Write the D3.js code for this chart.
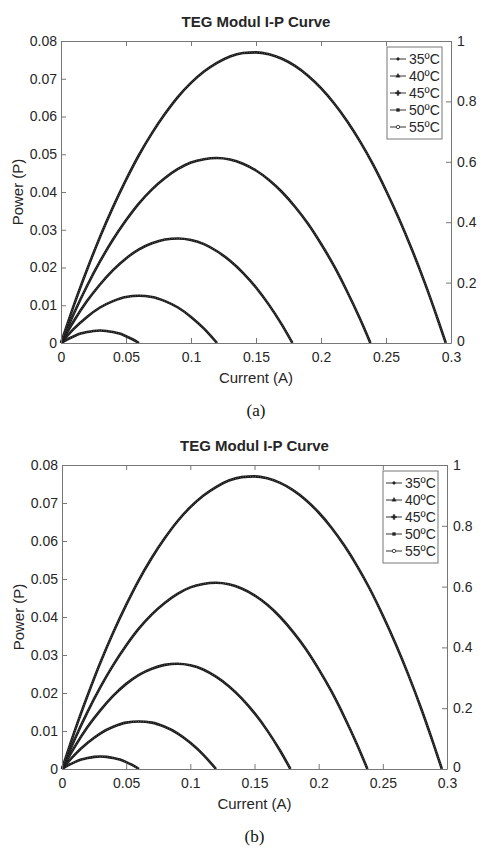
<!DOCTYPE html>
<html><head><meta charset="utf-8">
<script src="https://cdn.jsdelivr.net/npm/d3@7"></script>
<style>
html,body{margin:0;padding:0;background:#fff;}
text{font-family:"Liberation Sans",Arial,Helvetica,sans-serif;}
</style></head>
<body><svg id="chart" width="481" height="850"></svg>
<script>
// ---- data ----
const temps = ["35ºC", "40ºC", "45ºC", "50ºC", "55ºC"];
const current35 = [0,0.005,0.01,0.015,0.02,0.025,0.03,0.035,0.04,0.045,0.05,0.055,0.06];
const power35   = [0,0.0010,0.0018,0.0025,0.0029,0.0032,0.0033,0.0032,0.0029,0.0025,0.0018,0.0010,0];
const current40 = [0,0.01,0.02,0.03,0.04,0.05,0.06,0.07,0.08,0.09,0.10,0.11,0.12];
const power40   = [0,0.0038,0.0069,0.0094,0.0111,0.0122,0.0125,0.0122,0.0111,0.0094,0.0069,0.0038,0];
const current45 = [0,0.01,0.02,0.03,0.04,0.05,0.06,0.07,0.08,0.09,0.10,0.11,0.12,0.13,0.14,0.15,0.16,0.17,0.178];
const power45   = [0,0.0059,0.0111,0.0155,0.0193,0.0224,0.0248,0.0264,0.0274,0.0277,0.0273,0.0262,0.0243,0.0218,0.0186,0.0147,0.0101,0.0048,0];
const current50 = [0,0.01,0.02,0.03,0.04,0.05,0.06,0.07,0.08,0.09,0.10,0.11,0.12,0.13,0.14,0.15,0.16,0.17,0.18,0.19,0.20,0.21,0.22,0.23,0.238];
const power50   = [0,0.0079,0.0151,0.0216,0.0274,0.0325,0.0370,0.0407,0.0437,0.0461,0.0478,0.0487,0.0490,0.0486,0.0475,0.0457,0.0432,0.0400,0.0361,0.0316,0.0263,0.0204,0.0137,0.0064,0];
const current55 = [0,0.01,0.02,0.03,0.04,0.05,0.06,0.07,0.08,0.09,0.10,0.11,0.12,0.13,0.14,0.15,0.16,0.17,0.18,0.19,0.20,0.21,0.22,0.23,0.24,0.25,0.26,0.27,0.28,0.29,0.296];
const power55   = [0,0.0101,0.0194,0.0281,0.0360,0.0432,0.0498,0.0556,0.0607,0.0652,0.0689,0.0719,0.0742,0.0759,0.0768,0.0770,0.0765,0.0753,0.0734,0.0708,0.0675,0.0635,0.0588,0.0534,0.0473,0.0404,0.0329,0.0247,0.0158,0.0061,0];
const xTicks = [0,0.05,0.1,0.15,0.2,0.25,0.3];
const yTicks = [0,0.01,0.02,0.03,0.04,0.05,0.06,0.07,0.08];
const rightTicks = [0,0.2,0.4,0.6,0.8,1];
const title = "TEG Modul I-P Curve";
const xLabel = "Current (A)";
const yLabel = "Power (P)";
const captions = ["(a)", "(b)"];

const seriesCurrents = [current35,current40,current45,current50,current55];
const seriesPowers = [power35,power40,power45,power50,power55];
const symbolTypes = [d3.symbolCircle, d3.symbolTriangle, d3.symbolCross, d3.symbolSquare, d3.symbolCircle];

const svg = d3.select("#chart");
const fmt = d => String(+d.toFixed(3));
const axisCol = "#777", textCol = "#262626";

function panel(L, caption){
  const g = svg.append("g");
  const x = d3.scaleLinear().domain([0,0.3]).range([L.left, L.right]);
  const y = d3.scaleLinear().domain([0,0.08]).range([L.bottom, L.top]);
  const yr = d3.scaleLinear().domain([0,1]).range([L.bottom, L.top]);

  // curves
  const line = d3.line().x(d=>x(d[0])).y(d=>y(d[1])).curve(d3.curveMonotoneX);
  seriesCurrents.forEach((cs,i)=>{
    const pts = cs.map((c,j)=>[c, seriesPowers[i][j]]);
    g.append("path").attr("d", line(pts)).attr("fill","none")
      .attr("stroke","#1a1a1a").attr("stroke-width",2.6);
    g.append("path").attr("d", line(pts)).attr("fill","none")
      .attr("stroke","#6a6a6a").attr("stroke-width",0.8).attr("stroke-dasharray","1,1.5");
  });

  // axes
  const ax = (a)=>a.tickSizeOuter(0);
  const gb = g.append("g").attr("transform",`translate(0,${L.bottom})`)
    .call(ax(d3.axisBottom(x).tickValues(xTicks).tickFormat(fmt).tickSizeInner(-5).tickPadding(9)));
  const gt = g.append("g").attr("transform",`translate(0,${L.top})`)
    .call(ax(d3.axisTop(x).tickValues(xTicks).tickFormat("").tickSizeInner(-5)));
  const gl = g.append("g").attr("transform",`translate(${L.left},0)`)
    .call(ax(d3.axisLeft(y).tickValues(yTicks).tickFormat(fmt).tickSizeInner(-5).tickPadding(4)));
  const gr = g.append("g").attr("transform",`translate(${L.right},0)`)
    .call(ax(d3.axisRight(yr).tickValues(rightTicks).tickFormat(fmt).tickSizeInner(-5).tickPadding(6)));
  [gb,gt,gl,gr].forEach(a=>{
    a.selectAll("path.domain").attr("stroke",axisCol).attr("stroke-width",1);
    a.selectAll(".tick line").attr("stroke",axisCol);
    a.selectAll(".tick text").attr("fill",textCol).style("font-size","14px")
      .style("font-family","'Liberation Sans',Arial,sans-serif");
  });
  gr.selectAll(".tick text").filter(d=>d===0).attr("dy","0.2em");

  // labels
  g.append("text").attr("x",(L.left+L.right)/2).attr("y",L.top-14).attr("text-anchor","middle")
    .attr("fill",textCol).style("font-size","15px").style("font-weight","bold").text(title);
  g.append("text").attr("x",(L.left+L.right)/2).attr("y",L.bottom+40).attr("text-anchor","middle")
    .attr("fill",textCol).style("font-size","15px").text(xLabel);
  g.append("text").attr("transform",`translate(${L.left-38},${(L.top+L.bottom)/2}) rotate(-90)`)
    .attr("text-anchor","middle").attr("fill",textCol).style("font-size","15px").text(yLabel);
  g.append("text").attr("x",(L.left+L.right)/2).attr("y",L.bottom+73).attr("text-anchor","middle")
    .attr("fill","#111").style("font-size","17px").style("font-family","'Liberation Serif','Times New Roman',serif")
    .text(caption);

  // legend
  const lx = L.right-64, ly = L.top+6, lw = 55, step = 17;
  const lg = g.append("g");
  lg.append("rect").attr("x",lx).attr("y",ly).attr("width",lw).attr("height",12+step*temps.length-5)
    .attr("fill","#fff").attr("stroke",axisCol).attr("stroke-width",1);
  temps.forEach((t,i)=>{
    const cy = ly + 12 + i*step;
    lg.append("line").attr("x1",lx+3).attr("x2",lx+19).attr("y1",cy).attr("y2",cy)
      .attr("stroke","#333").attr("stroke-width",1);
    const open = i===4;
    lg.append("path").attr("d", d3.symbol().type(symbolTypes[i]).size(i===2?14:(i===0?6:9))())
      .attr("transform",`translate(${lx+11},${cy})`)
      .attr("fill", open?"#fff":"#222").attr("stroke","#222").attr("stroke-width", open?0.8:0.3);
    lg.append("text").attr("x",lx+22).attr("y",cy).attr("dy","0.35em")
      .attr("fill",textCol).style("font-size","14px").text(t);
  });
}

panel({left:61,right:451,top:41,bottom:343}, captions[0]);
panel({left:62,right:447,top:465,bottom:769}, captions[1]);
</script></body></html>
